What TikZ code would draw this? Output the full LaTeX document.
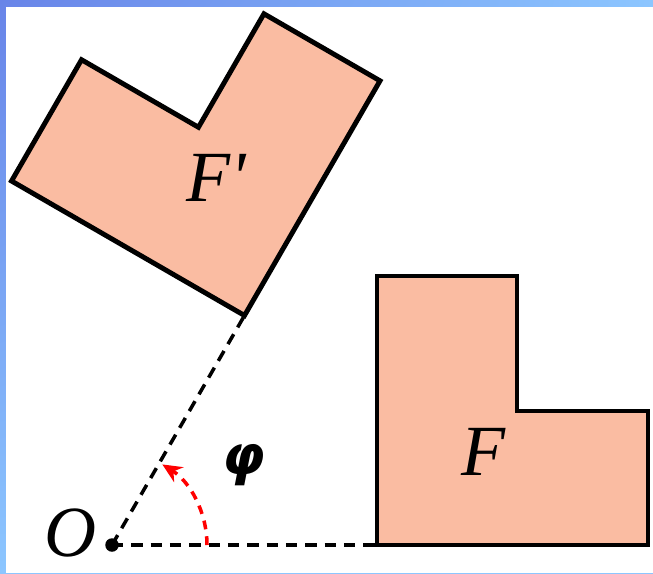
\documentclass[tikz,border=0pt]{standalone}
\usepackage{fontspec}
\setmainfont{Liberation Serif}
\newfontfamily\symfont{DejaVu Sans}
\usetikzlibrary{arrows.meta, shadings}
\definecolor{peach}{RGB}{250,188,162}
\definecolor{frameA}{RGB}{104,132,232}
\definecolor{frameB}{RGB}{140,198,255}

\begin{document}
\begin{tikzpicture}[>={Stealth[length=11pt, width=10pt]},
  shapeF/.style={fill=peach, draw=black, line width=2.8pt, line join=miter},
  guide/.style={line width=2pt, dash pattern=on 6.5pt off 4.5pt},
  angarc/.style={->, draw=red, line width=2pt, dash pattern=on 5pt off 4pt},
  dot/.style={circle, fill=black, inner sep=0pt, minimum size=0.27cm},
  lbl/.style={font=\fontsize{41}{44}\selectfont\itshape, inner sep=0pt}
]
\useasboundingbox (-2.24,-0.56) rectangle (10.82,10.9);
% frame
\shade[upper left=frameA, upper right=frameB, lower left=frameB, lower right=frameB]
  (-2.24,-0.56) rectangle (10.82,10.9);
\fill[white] (-2.12,-0.56) rectangle (10.82,10.76);

\node[dot] (O) at (0,0) {};
\coordinate (A) at (5.3,0);
\coordinate (Ar) at (60:5.3);

% dashed rays
\draw[guide] (O.center) -- (A);
\draw[guide] (O.center) -- (Ar);

% figure F and its image F'
\path[shapeF] (A) -- (10.72,0) -- (10.72,2.68) -- (8.1,2.68) -- (8.1,5.38) -- (5.3,5.38) -- cycle;
\begin{scope}[rotate=60]
\path[shapeF] (5.3,0) -- (10.72,0) -- (10.72,2.68) -- (8.1,2.68) -- (8.1,5.38) -- (5.3,5.38) -- cycle;
\end{scope}

% angle
\coordinate (Ph0) at (1.9,0);
\draw[angarc] (Ph0) arc[start angle=0, end angle=58, radius=1.9];

\node[lbl] (labO) at (-0.82,0.24) {O};
\node[lbl] (labF) at (7.42,1.86) {F};
\node[lbl] (labFr) at (2.08,7.34) {F\textquotesingle};
\node[font=\fontsize{31}{33}\selectfont\symfont\bfseries\itshape, inner sep=0pt] (labPhi) at (2.64,1.6) {φ};
\end{tikzpicture}
\end{document}
